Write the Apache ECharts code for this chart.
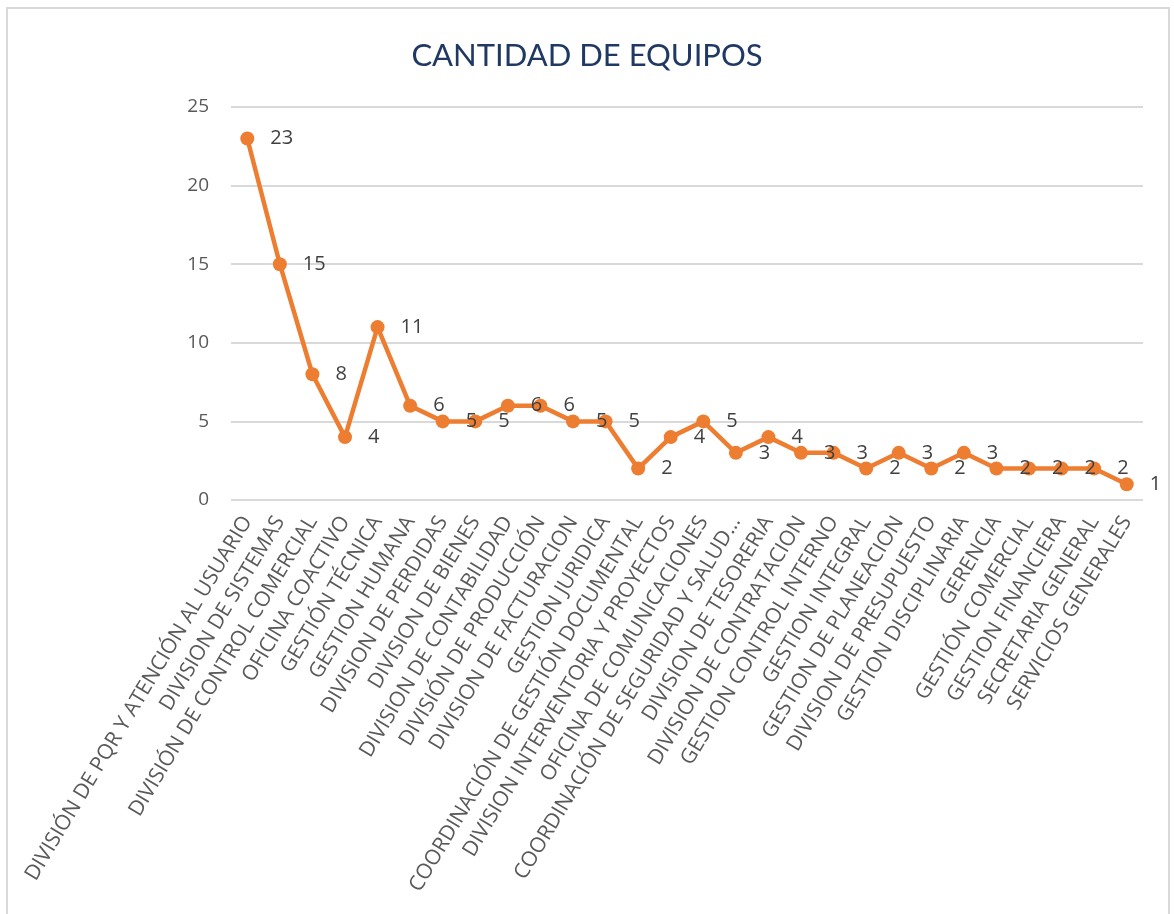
<!DOCTYPE html>
<html>
<head>
  <meta charset="utf-8">
  <title>Cantidad de equipos</title>
  <script src="https://cdn.jsdelivr.net/npm/echarts@6/dist/echarts.min.js"></script>
  <style>
    html, body { margin: 0; padding: 0; background: #fff; }
    #frame {
      position: absolute; left: 6px; top: 7px; width: 1164px; height: 920px;
      border: 2px solid #d9d9d9; box-sizing: border-box;
    }
    #main { position: absolute; left: 0; top: 0; width: 1174px; height: 914px; }
  </style>
</head>
<body>
<div id="frame"></div>
<div id="main"></div>
<script>
  // dependencias
  var categorias = [
    'DIVISIÓN DE PQR Y ATENCIÓN AL USUARIO',
    'DIVISION DE SISTEMAS',
    'DIVISIÓN DE CONTROL COMERCIAL',
    'OFICINA COACTIVO',
    'GESTIÓN TÉCNICA',
    'GESTION HUMANA',
    'DIVISION DE PERDIDAS',
    'DIVISION DE BIENES',
    'DIVISION DE CONTABILIDAD',
    'DIVISIÓN DE PRODUCCIÓN',
    'DIVISION DE FACTURACION',
    'GESTION JURIDICA',
    'COORDINACIÓN DE GESTIÓN DOCUMENTAL',
    'DIVISION INTERVENTORIA Y PROYECTOS',
    'OFICINA DE COMUNICACIONES',
    'COORDINACIÓN DE SEGURIDAD Y SALUD…',
    'DIVISION DE TESORERIA',
    'DIVISION DE CONTRATACION',
    'GESTION CONTROL INTERNO',
    'GESTION INTEGRAL',
    'GESTION DE PLANEACION',
    'DIVISION DE PRESUPUESTO',
    'GESTION DISCIPLINARIA',
    'GERENCIA',
    'GESTIÓN COMERCIAL',
    'GESTION FINANCIERA',
    'SECRETARIA GENERAL',
    'SERVICIOS GENERALES'
  ];
  // cantidad de equipos por dependencia
  var equipos = [23, 15, 8, 4, 11, 6, 5, 5, 6, 6, 5, 5, 2, 4, 5, 3, 4, 3, 3, 2, 3, 2, 3, 2, 2, 2, 2, 1];
  var ticksY = [0, 5, 10, 15, 20, 25];

  var fuente = 'Open Sans';

  var myChart = echarts.init(document.getElementById('main'));
  var option = {
    title: {
      text: 'CANTIDAD DE EQUIPOS',
      left: 'center',
      top: 35,
      textStyle: { color: '#1f3864', fontSize: 31, fontWeight: 'normal', fontFamily: 'Lato' }
    },
    grid: { left: 231, right: 31, top: 107, bottom: 414 },
    xAxis: {
      type: 'category',
      data: categorias,
      boundaryGap: true,
      axisLine: { show: false },
      axisTick: { show: false },
      axisLabel: {
        rotate: 59, interval: 0, margin: 18,
        color: '#595959', fontSize: 21, fontFamily: fuente
      }
    },
    yAxis: {
      type: 'value',
      min: ticksY[0],
      max: ticksY[ticksY.length - 1],
      interval: 5,
      axisLine: { show: false },
      axisTick: { show: false },
      splitLine: { lineStyle: { color: '#d9d9d9', width: 2 } },
      axisLabel: { color: '#595959', fontSize: 19, margin: 22, fontFamily: fuente }
    },
    series: [{
      type: 'line',
      data: equipos,
      symbol: 'circle',
      symbolSize: 14,
      lineStyle: { color: '#ed7d31', width: 4.5 },
      itemStyle: { color: '#ed7d31' },
      label: {
        show: true, position: 'right', distance: 16,
        color: '#404040', fontSize: 20, fontFamily: fuente
      },
      animation: false
    }]
  };
  option && myChart.setOption(option);

  window.onresize = function () {
    myChart.resize();
  };
</script>
</body>
</html>
